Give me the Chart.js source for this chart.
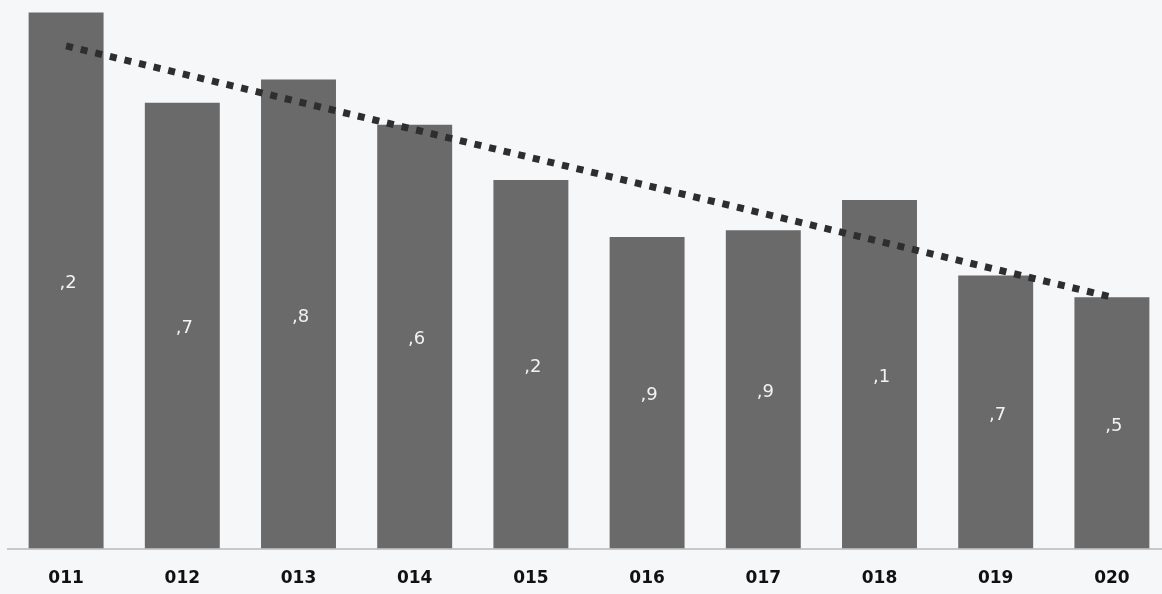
<!DOCTYPE html>
<html>
<head>
<meta charset="utf-8">
<script src="https://cdn.jsdelivr.net/npm/chart.js@4/dist/chart.umd.min.js"></script>
<style>
html,body{margin:0;padding:0;overflow:hidden;background:#f6f7f9;}
#wrap{position:relative;width:1162px;height:594px;overflow:hidden;}
#wrap canvas{position:absolute;left:0;top:0;}
</style>
</head>
<body>
<div id="wrap"><canvas id="c" width="1180" height="594" style="width:1180px;height:594px"></canvas></div>
<script>
const categories = ['011','012','013','014','015','016','017','018','019','020'];
const values = [3.2, 2.66, 2.8, 2.53, 2.2, 1.86, 1.9, 2.08, 1.63, 1.5];
const valueLabels = [',2', ',7', ',8', ',6', ',2', ',9', ',9', ',1', ',7', ',5'];
const trend = [3.0, null, null, null, null, null, null, null, null, 1.5];

const labelPlugin = {
  id: 'barLabels',
  afterDatasetsDraw(chart) {
    const meta = chart.getDatasetMeta(0);
    const ctx = chart.ctx;
    ctx.save();
    ctx.font = '18px "DejaVu Sans", sans-serif';
    ctx.fillStyle = '#f2f2f2';
    ctx.textAlign = 'center';
    ctx.textBaseline = 'middle';
    meta.data.forEach((bar, i) => {
      const y = (bar.y + bar.base) / 2 + 3;
      ctx.fillText(valueLabels[i], bar.x + 2, y);
    });
    ctx.restore();
  }
};

new Chart(document.getElementById('c'), {
  data: {
    labels: categories,
    datasets: [
      {
        type: 'bar',
        data: values,
        backgroundColor: '#6a6a6a',
        barPercentage: 0.645,
        categoryPercentage: 1.0,
        order: 2
      },
      {
        type: 'line',
        data: trend,
        spanGaps: true,
        borderColor: '#2e2e2e',
        borderWidth: 7,
        borderDash: [7, 8],
        borderCapStyle: 'butt',
        pointRadius: 0,
        fill: false,
        order: 1
      }
    ]
  },
  options: {
    responsive: false,
    animation: false,
    devicePixelRatio: 1,
    layout: { padding: { left: 8, right: 10, top: 4, bottom: -15 } },
    plugins: { legend: { display: false }, tooltip: { enabled: false } },
    scales: {
      x: {
        grid: { display: false, drawTicks: false },
        border: { display: true, color: '#c8c8c8', width: 2 },
        ticks: {
          padding: 20,
          color: '#111',
          font: { family: '"DejaVu Sans", sans-serif', size: 17, weight: 'bold', lineHeight: 1.2 }
        }
      },
      y: {
        display: false,
        min: 0,
        max: 3.25
      }
    }
  },
  plugins: [labelPlugin]
});
</script>
</body>
</html>
